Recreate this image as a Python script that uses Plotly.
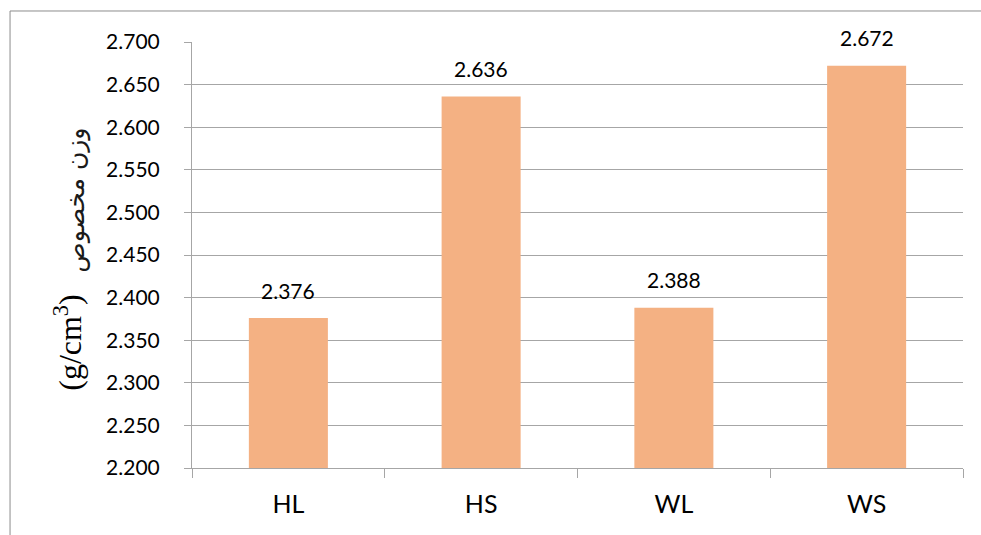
import plotly.graph_objects as go

# Specific weight per sample group
categories = ["HL", "HS", "WL", "WS"]
values = [2.376, 2.636, 2.388, 2.672]
y_ticks = [2.200, 2.250, 2.300, 2.350, 2.400, 2.450, 2.500, 2.550, 2.600, 2.650, 2.700]

BAR_COLOR = "#F4B183"
GRID = "#A6A6A6"
FONT = "Lato, 'Open Sans', sans-serif"

fig = go.Figure()
fig.add_trace(go.Bar(
    x=categories,
    y=values,
    width=0.41,
    marker=dict(color=BAR_COLOR, line=dict(width=0)),
    hoverinfo="x+y",
))

# value labels above each bar
for c, v in zip(categories, values):
    fig.add_annotation(
        x=c, y=v, text=f"{v:.3f}", showarrow=False,
        yshift=28, font=dict(family=FONT, size=21, color="#000000"),
    )

# rotated y-axis title: units and Arabic caption
fig.add_annotation(
    xref="paper", yref="paper", x=-0.161, y=0.296,
    xanchor="center", yanchor="middle",
    text="(g/cm<sup>3</sup>)", showarrow=False, textangle=-90,
    font=dict(family="Liberation Serif, 'DejaVu Serif', serif", size=32, color="#000000"),
)
fig.add_annotation(
    xref="paper", yref="paper", x=-0.150, y=0.629,
    xanchor="center", yanchor="middle",
    text="وزن مخصوص", showarrow=False, textangle=-90,
    font=dict(family="'DejaVu Sans', sans-serif", size=25, color="#1a1a1a"),
)

# outer chart frame
fig.add_shape(
    type="rect", xref="paper", yref="paper",
    x0=-0.236, x1=1.04, y0=-0.2, y1=1.0728,
    line=dict(color="#8C8C8C", width=1), fillcolor="rgba(0,0,0,0)", layer="below",
)

fig.update_layout(
    width=981, height=535,
    margin=dict(l=192, r=18, t=42, b=67),
    paper_bgcolor="white", plot_bgcolor="white",
    showlegend=False,
    xaxis=dict(
        type="category",
        showline=True, linecolor=GRID, linewidth=1.3,
        ticks="outside", tickson="boundaries", ticklen=9, tickcolor=GRID,
        showgrid=False,
        tickfont=dict(family=FONT, size=25, color="#000000"),
        ticklabelstandoff=14,
    ),
    yaxis=dict(
        range=[2.2, 2.7],
        tickvals=y_ticks,
        ticktext=[f"{t:.3f}" for t in y_ticks],
        showline=True, linecolor=GRID, linewidth=1,
        ticks="outside", ticklen=7, tickcolor=GRID,
        showgrid=True, gridcolor=GRID, gridwidth=1,
        zeroline=False,
        tickfont=dict(family=FONT, size=21, color="#000000"),
        ticklabelstandoff=20,
    ),
)

fig.write_html("out.html")
